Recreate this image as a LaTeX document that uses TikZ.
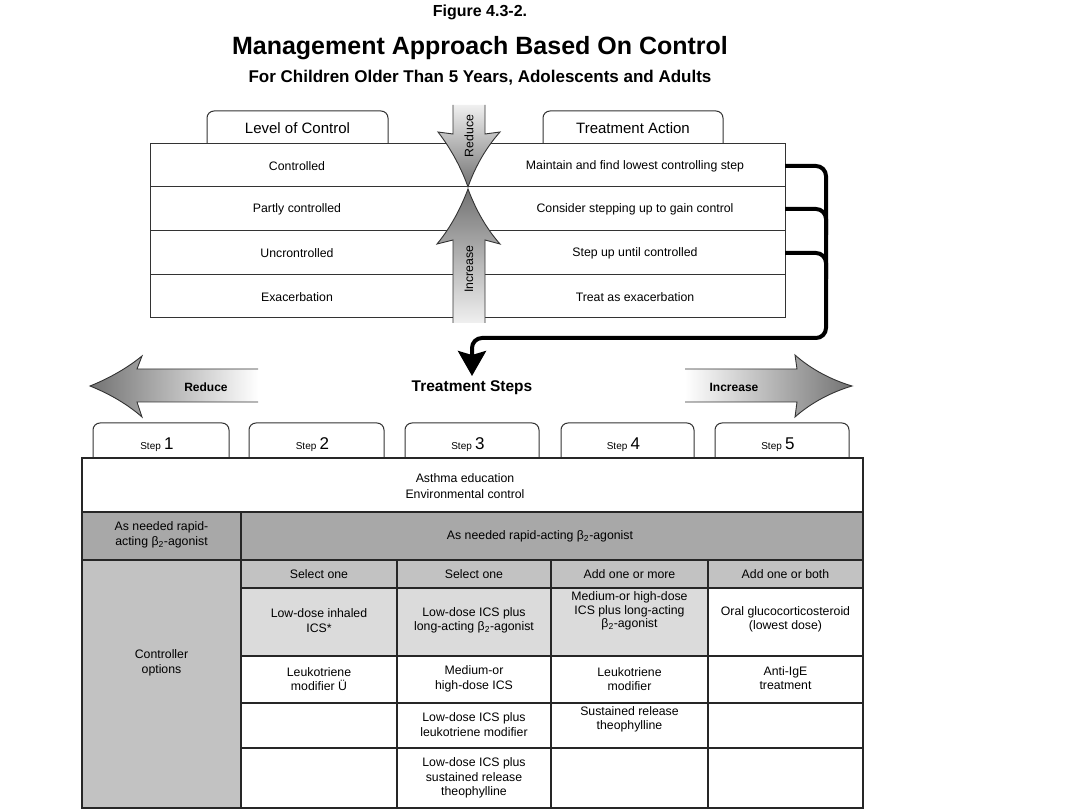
\documentclass[tikz,border=0pt]{standalone}
\usepackage{fontspec}
\setmainfont{Liberation Sans}
\usetikzlibrary{arrows.meta}
\newcommand\fs[2]{\fontsize{#1}{#2}\selectfont}
\definecolor{gA}{gray}{0.66}
\definecolor{gB}{gray}{0.76}
\definecolor{gC}{gray}{0.86}
\begin{document}
\begin{tikzpicture}[x=1pt,y=-1pt,
  every node/.style={inner sep=0pt,outer sep=0pt},
  txt/.style={font=\fs{12.3}{14.5}, align=center},
  tabtxt/.style={font=\fs{15}{17}},
  gridline/.style={draw=black!80, line width=1pt},
  tgrid/.style={draw=black!85, line width=1.3pt},
  tabline/.style={draw=black!80, line width=1pt, rounded corners=7pt},
  arrline/.style={draw=black!80, line width=0.9pt},
  conn/.style={line width=4pt, rounded corners=10pt},
  bigtxt/.style={font=\bfseries\fs{12}{14}},
]
\useasboundingbox[fill=white] (0,0) rectangle (1080,810);

% titles
\node[font=\bfseries\fs{16}{18}] (fig) at (480,12) {Figure 4.3-2.};
\node[font=\bfseries\fs{25}{28}] (title) at (480,48) {Management Approach Based On Control};
\node[font=\bfseries\fs{17}{19}] (subtitle) at (480,78) {For Children Older Than 5 Years, Adolescents and Adults};

% top tabs
\draw[tabline, fill=white] (207,144) -- (207,111) -- (388,111) -- (388,144);
\draw[tabline, fill=white] (543,144) -- (543,111) -- (723,111) -- (723,144);
\node[tabtxt] (loc) at (297.5,128) {Level of Control};
\node[tabtxt] (tact) at (633,128) {Treatment Action};

% top table
\draw[gridline] (150,144) rectangle (785,318);
\foreach \y in {187,231,275} \draw[gridline] (150,\y) -- (785,\y);

\node[txt] (L1) at (297,166) {Controlled};
\node[txt] (L2) at (297,209) {Partly controlled};
\node[txt] (L3) at (297,253) {Uncrontrolled};
\node[txt] (L4) at (297,297) {Exacerbation};
\node[txt, minimum width=300pt] (R1) at (635,166) {Maintain and find lowest controlling step};
\node[txt, minimum width=300pt] (R2) at (635,209) {Consider stepping up to gain control};
\node[txt, minimum width=300pt] (R3) at (635,253) {Step up until controlled};
\node[txt, minimum width=300pt] (R4) at (635,297) {Treat as exacerbation};

% vertical arrows
\shade[top color=black!6, bottom color=black!55]
  (453,105) -- (453,134) -- (438,132) .. controls (452,150) and (462,170) .. (468,187)
  .. controls (474,170) and (484,150) .. (500,132) -- (485,134) -- (485,105) -- cycle;
\draw[arrline]
  (453,105) -- (453,134) -- (438,132) .. controls (452,150) and (462,170) .. (468,187)
  .. controls (474,170) and (484,150) .. (500,132) -- (485,134) -- (485,105);
\node[txt, rotate=90] (redv) at (469,136) {Reduce};

\shade[top color=black!55, bottom color=black!6]
  (453,323) -- (453,240) -- (437,244) .. controls (452,226) and (462,205) .. (468,189)
  .. controls (474,205) and (484,226) .. (500,244) -- (485,240) -- (485,323) -- cycle;
\draw[arrline]
  (453,323) -- (453,240) -- (437,244) .. controls (452,226) and (462,205) .. (468,189)
  .. controls (474,205) and (484,226) .. (500,244) -- (485,240) -- (485,323);
\node[txt, rotate=90] (incv) at (469,269) {Increase};

% connector
\coordinate (cR) at (826,338);
\coordinate (cT) at (472,338);
\coordinate (tip) at (472,376);
\draw[conn, -{Stealth[length=25pt,width=28pt,inset=4pt]}]
  (R1.east) -- (R1.east -| cR) -- (cR) -- (cT) -- (tip);
\draw[conn] (R2.east) -- (R2.east -| cR) -- ++(0,26);
\draw[conn] (R3.east) -- (R3.east -| cR) -- ++(0,26);

% treatment steps
\node[font=\bfseries\fs{15.5}{17}] (tsteps) at (472,388) {Treatment Steps};

\shade[left color=black!55, right color=white]
  (258,369) -- (137,369) -- (142,356) .. controls (125,370) and (105,380) .. (90,386)
  .. controls (105,392) and (125,402) .. (142,417) -- (137,402) -- (258,402) -- cycle;
\draw[arrline]
  (258,369) -- (137,369) -- (142,356) .. controls (125,370) and (105,380) .. (90,386)
  .. controls (105,392) and (125,402) .. (142,417) -- (137,402) -- (258,402);
\node[bigtxt] (redh) at (206,387) {Reduce};

\shade[left color=white, right color=black!55]
  (685,369) -- (797,369) -- (795,355) .. controls (812,370) and (832,380) .. (852,386)
  .. controls (832,392) and (812,402) .. (795,417) -- (797,402) -- (685,402) -- cycle;
\draw[arrline]
  (685,369) -- (797,369) -- (795,355) .. controls (812,370) and (832,380) .. (852,386)
  .. controls (832,392) and (812,402) .. (795,417) -- (797,402) -- (685,402);
\node[bigtxt] (inch) at (734,387) {Increase};

% step tabs
\foreach \a/\b/\n in {93/229/1, 249/384/2, 405/539/3, 561/694/4, 715/849/5} {
  \draw[tabline, fill=white] (\a,458) -- (\a,423) -- (\b,423) -- (\b,458);
  \node[font=\fs{12}{14}] (step\n) at ({(\a+\b)/2-4},445) {{\fs{10}{12}Step} {\fs{17}{18}\n}};
}

% bottom table fills
\fill[white] (82,458) rectangle (863,512);
\fill[gA] (82,512) rectangle (863,560);
\fill[gB] (82,560) rectangle (241,808);
\fill[gB] (241,560) rectangle (863,588);
\fill[gC] (241,588) rectangle (708,656);
% grid
\draw[tgrid] (82,458) rectangle (863,808);
\foreach \y in {512,560} \draw[tgrid] (82,\y) -- (863,\y);
\foreach \y in {588,656,703,748} \draw[tgrid] (241,\y) -- (863,\y);
\draw[tgrid] (241,512) -- (241,808);
\foreach \x in {397,551,708} \draw[tgrid] (\x,560) -- (\x,808);

% bottom texts
\node[txt, font=\fs{12.3}{16}] (edu) at (465,486) {Asthma education\\Environmental control};
\node[txt] (rapid1) at (161.5,535) {As needed rapid-\\acting β\textsubscript{2}-agonist};
\node[txt] (rapid2) at (540,536) {As needed rapid-acting β\textsubscript{2}-agonist};
\node[txt] (ctrl) at (161.5,663) {Controller\\options};

\node[txt] (h2) at (319,574) {Select one};
\node[txt] (h3) at (474,574) {Select one};
\node[txt] (h4) at (629.5,574) {Add one or more};
\node[txt] (h5) at (785.5,574) {Add one or both};

\node[txt] (a2) at (319,620.5) {Low-dose inhaled\\ICS*};
\node[txt] (a3) at (474,620.5) {Low-dose ICS plus\\long-acting β\textsubscript{2}-agonist};
\node[txt, font=\fs{12.3}{13.8}] (a4) at (629.5,611) {Medium-or high-dose\\ICS plus long-acting\\β\textsubscript{2}-agonist};
\node[txt] (a5) at (785.5,619.5) {Oral glucocorticosteroid\\(lowest dose)};

\node[txt] (b2) at (319,679) {Leukotriene\\modifier Ü};
\node[txt] (b3) at (474,679) {Medium-or\\high-dose ICS};
\node[txt] (b4) at (629.5,679) {Leukotriene\\modifier};
\node[txt] (b5) at (785.5,678) {Anti-IgE\\treatment};

\node[txt] (c3) at (474,724.5) {Low-dose ICS plus\\leukotriene modifier};
\node[txt] (c4) at (629.5,719.5) {Sustained release\\theophylline};

\node[txt] (d3) at (474,778) {Low-dose ICS plus\\sustained release\\theophylline};
\end{tikzpicture}
\end{document}
